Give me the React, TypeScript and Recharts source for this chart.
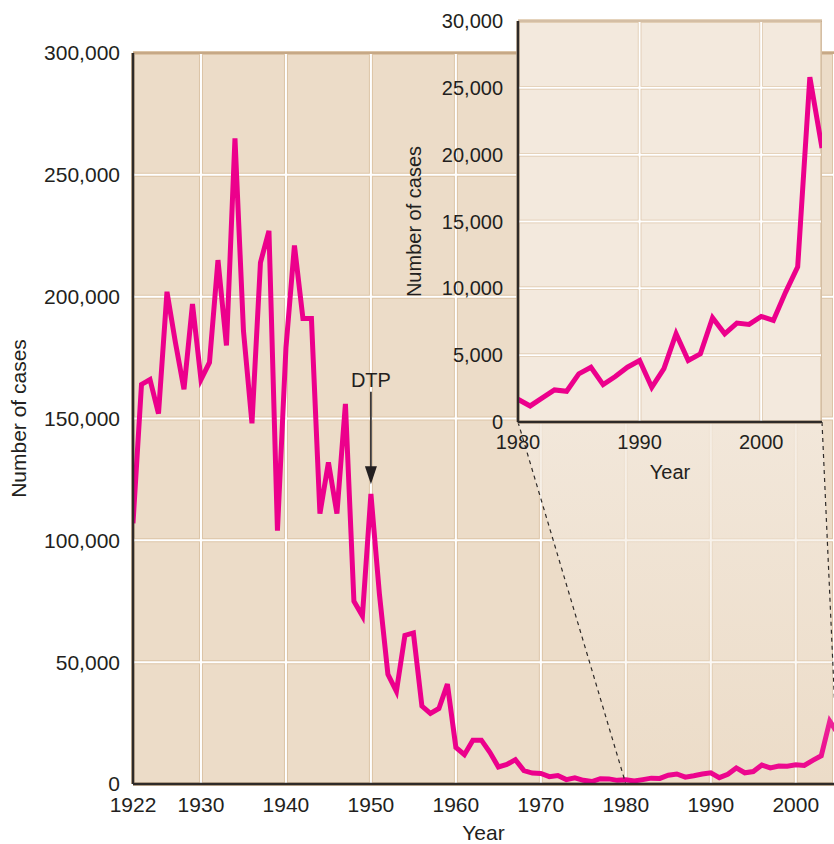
import { CartesianGrid, Line, LineChart, ReferenceLine, XAxis, YAxis } from 'recharts'

const years = [
  1922, 1923, 1924, 1925, 1926, 1927, 1928, 1929, 1930, 1931,
  1932, 1933, 1934, 1935, 1936, 1937, 1938, 1939, 1940, 1941,
  1942, 1943, 1944, 1945, 1946, 1947, 1948, 1949, 1950, 1951,
  1952, 1953, 1954, 1955, 1956, 1957, 1958, 1959, 1960, 1961,
  1962, 1963, 1964, 1965, 1966, 1967, 1968, 1969, 1970, 1971,
  1972, 1973, 1974, 1975, 1976, 1977, 1978, 1979, 1980, 1981,
  1982, 1983, 1984, 1985, 1986, 1987, 1988, 1989, 1990, 1991,
  1992, 1993, 1994, 1995, 1996, 1997, 1998, 1999, 2000, 2001,
  2002, 2003, 2004, 2005,
]

const cases = [
  107000, 164000, 166000, 152000, 202000, 181000, 162000, 197000, 166000, 173000,
  215000, 180000, 265000, 186000, 148000, 214000, 227000, 104000, 179000, 221000,
  191000, 191000, 111000, 132000, 111000, 156000, 75000, 69000, 119000, 78000,
  45000, 38000, 61000, 62000, 32000, 29000, 31000, 41000, 15000, 12000,
  18000, 18000, 13000, 7000, 8000, 10000, 5500, 4500, 4300, 3000,
  3500, 1800, 2500, 1500, 1000, 2200, 2100, 1500, 1700, 1200,
  1800, 2400, 2300, 3600, 4100, 2800, 3400, 4100, 4600, 2600,
  4000, 6600, 4600, 5100, 7800, 6600, 7400, 7300, 7900, 7600,
  9700, 11600, 25800, 20500,
]

const mainXTicks = [1922, 1930, 1940, 1950, 1960, 1970, 1980, 1990, 2000]
const mainYTicks = [0, 50000, 100000, 150000, 200000, 250000, 300000]
const insetXTicks = [1980, 1990, 2000]
const insetYTicks = [0, 5000, 10000, 15000, 20000, 25000, 30000]

// DTP vaccine annotation: arrow from label down to the 1950 peak
const dtpYear = 1950
const dtpArrowFrom = 161000
const dtpArrowTo = 123000

const MAIN_DOMAIN: [number, number] = [1922, 2004.5]
const INSET_DOMAIN: [number, number] = [1980, 2005]

const W = 834
const H = 844
const MAIN_TOP = 53
const MAIN_AXIS_W = 133
const MAIN_AXIS_H = 60

const INSET_LEFT = 400
const INSET_W = 422
const INSET_H = 490
const INSET_TOP = 21
const INSET_AXIS_W = 118
const INSET_AXIS_H = 68

const LINE = '#ec008c'
const MAIN_BG = '#ecdcc8'
const INSET_BG = '#f3e9dd'
const GRID_SHADOW = '#dcc4a6'
const BORDER = '#c6a886'
const AXIS = '#2e2a28'
const TEXT = '#231f20'
const FONT = '"Liberation Sans", Arial, Helvetica, sans-serif'

const series = years.map((year, i) => ({ year, cases: cases[i] }))
const insetSeries = series.filter((d) => d.year >= INSET_DOMAIN[0])

const fmt = (v: number) => v.toLocaleString('en-US')

const yLabel = (cx: number, fontSize: number) => (props: any) => {
  const vb = props.viewBox || { x: 0, y: 0, height: 0 }
  const x = vb.x + cx
  const y = vb.y + vb.height / 2
  return (
    <text
      x={x}
      y={y}
      dy="0.35em"
      textAnchor="middle"
      transform={`rotate(-90 ${x} ${y})`}
      fontSize={fontSize}
      fill={TEXT}
    >
      Number of cases
    </text>
  )
}

function DtpArrow(p: any) {
  const { x1, y1, x2, y2 } = p
  return (
    <g>
      <text x={x1} y={y1 - 5} textAnchor="middle" fontSize={20} fill={TEXT}>
        DTP
      </text>
      <line x1={x1} y1={y1} x2={x2} y2={y2 - 14} stroke={TEXT} strokeWidth={1.6} />
      <polygon points={`${x2 - 6},${y2 - 18} ${x2 + 6},${y2 - 18} ${x2},${y2}`} fill={TEXT} />
    </g>
  )
}

/** Shaded wedge + dashed guides tying the inset to its 1980-2005 span in the main chart. */
function ZoomWedge() {
  const plotW = W - MAIN_AXIS_W
  const mainX = (yr: number) =>
    MAIN_AXIS_W + ((yr - MAIN_DOMAIN[0]) / (MAIN_DOMAIN[1] - MAIN_DOMAIN[0])) * plotW
  const mainB = H - MAIN_AXIS_H
  const iL = INSET_LEFT + INSET_AXIS_W
  const iR = INSET_LEFT + INSET_W
  const iB = INSET_H - INSET_AXIS_H
  const bL = mainX(INSET_DOMAIN[0])
  const bR = mainX(INSET_DOMAIN[1])
  return (
    <svg width={W} height={H} style={{ position: 'absolute', left: 0, top: 0, pointerEvents: 'none' }}>
      <defs>
        <linearGradient id="wedge" x1="0" y1="0" x2="0" y2="1">
          <stop offset="0%" stopColor={INSET_BG} stopOpacity={0.85} />
          <stop offset="100%" stopColor={INSET_BG} stopOpacity={0} />
        </linearGradient>
      </defs>
      <polygon points={`${iL},${iB} ${iR},${iB} ${bR},${mainB} ${bL},${mainB}`} fill="url(#wedge)" />
      <line x1={iL} y1={iB} x2={bL} y2={mainB} stroke={AXIS} strokeWidth={1.2} strokeDasharray="4 4" />
      <line x1={iR} y1={iB} x2={bR} y2={mainB} stroke={AXIS} strokeWidth={1.2} strokeDasharray="4 4" />
    </svg>
  )
}

export default function App() {
  return (
    <div style={{ position: 'absolute', left: 0, top: 0, width: W, height: H, fontFamily: FONT, background: '#fff' }}>
      <LineChart width={W} height={H} data={series} margin={{ top: MAIN_TOP, right: 0, bottom: 0, left: 0 }}>
        <CartesianGrid fill={MAIN_BG} fillOpacity={1} stroke={GRID_SHADOW} strokeWidth={4} />
        <CartesianGrid stroke="#ffffff" strokeWidth={2} />
        <ReferenceLine y={300000} stroke={BORDER} strokeWidth={2} />
        <XAxis
          dataKey="year"
          type="number"
          domain={MAIN_DOMAIN}
          ticks={mainXTicks}
          interval={0}
          allowDataOverflow
          height={MAIN_AXIS_H}
          tickLine={false}
          tickSize={0}
          tickMargin={13}
          axisLine={{ stroke: AXIS, strokeWidth: 2.5 }}
          tick={{ fill: TEXT, fontSize: 21 }}
          label={{ value: 'Year', position: 'insideBottom', offset: 4, fill: TEXT, fontSize: 21 }}
        />
        <YAxis
          type="number"
          domain={[0, 300000]}
          ticks={mainYTicks}
          interval={0}
          width={MAIN_AXIS_W}
          tickLine={false}
          tickSize={0}
          tickMargin={13}
          tickFormatter={fmt}
          axisLine={{ stroke: AXIS, strokeWidth: 2.5 }}
          tick={{ fill: TEXT, fontSize: 21 }}
          label={yLabel(19, 21)}
        />
        <Line
          type="linear"
          dataKey="cases"
          stroke={LINE}
          strokeWidth={5}
          dot={false}
          isAnimationActive={false}
        />
        <ReferenceLine
          segment={[
            { x: dtpYear, y: dtpArrowFrom },
            { x: dtpYear, y: dtpArrowTo },
          ]}
          shape={DtpArrow}
        />
      </LineChart>

      <ZoomWedge />

      <div style={{ position: 'absolute', left: INSET_LEFT, top: 0 }}>
        <LineChart
          width={INSET_W}
          height={INSET_H}
          data={insetSeries}
          margin={{ top: INSET_TOP, right: 0, bottom: 0, left: 0 }}
        >
          <CartesianGrid fill={INSET_BG} fillOpacity={1} stroke={GRID_SHADOW} strokeWidth={3.5} />
          <CartesianGrid stroke="#ffffff" strokeWidth={2} />
          <ReferenceLine y={30000} stroke={BORDER} strokeWidth={1.5} />
          <ReferenceLine x={2005} stroke={BORDER} strokeWidth={1.5} />
          <XAxis
            dataKey="year"
            type="number"
            domain={INSET_DOMAIN}
            ticks={insetXTicks}
            interval={0}
            allowDataOverflow
            height={INSET_AXIS_H}
            tickLine={false}
            tickSize={0}
            tickMargin={13}
            axisLine={{ stroke: AXIS, strokeWidth: 2.5 }}
            tick={{ fill: TEXT, fontSize: 20 }}
            label={{ value: 'Year', position: 'insideBottom', offset: 11, fill: TEXT, fontSize: 20 }}
          />
          <YAxis
            type="number"
            domain={[0, 30000]}
            ticks={insetYTicks}
            interval={0}
            width={INSET_AXIS_W}
            tickLine={false}
            tickSize={0}
            tickMargin={15}
            tickFormatter={fmt}
            axisLine={{ stroke: AXIS, strokeWidth: 2.5 }}
            tick={{ fill: TEXT, fontSize: 20 }}
            label={yLabel(14, 20)}
          />
          <Line
            type="linear"
            dataKey="cases"
            stroke={LINE}
            strokeWidth={5}
            dot={false}
            isAnimationActive={false}
          />
        </LineChart>
      </div>
    </div>
  )
}
